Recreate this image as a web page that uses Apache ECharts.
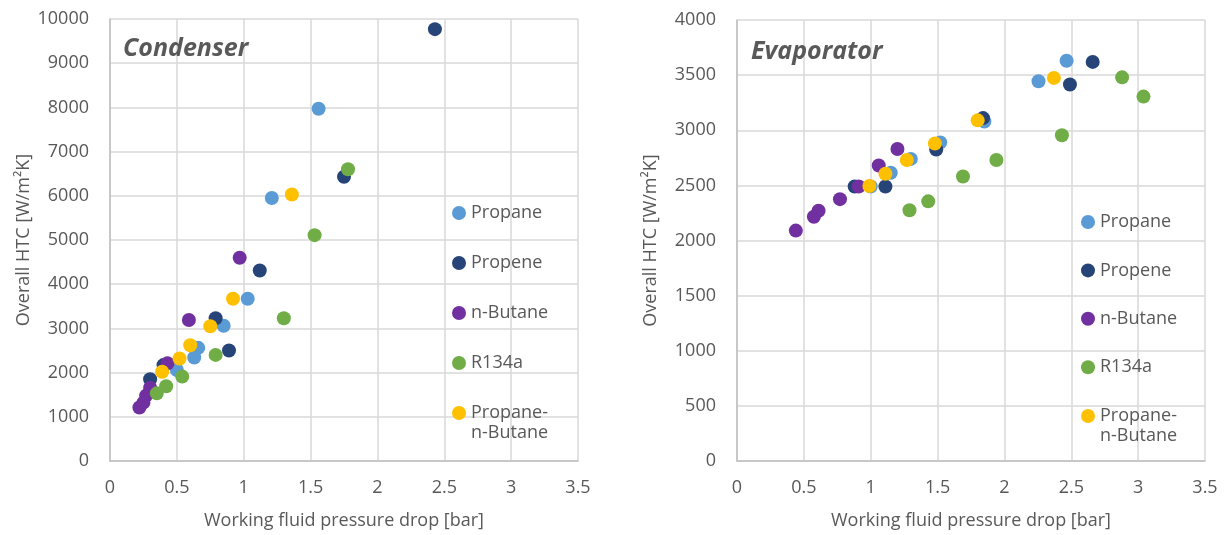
<!DOCTYPE html>
<html>
<head>
<meta charset="utf-8">
<script src="https://cdn.jsdelivr.net/npm/echarts@6/dist/echarts.min.js"></script>
<style>
html,body{margin:0;padding:0;background:#fff;}
#chart{width:1225px;height:535px;}
</style>
</head>
<body>
<div id="chart"></div>
<script>
// ---- Data ----
const seriesNames = ['Propane', 'Propene', 'n-Butane', 'R134a', 'Propane-n-Butane'];
const seriesColors = ['#5B9BD5', '#264478', '#7030A0', '#70AD47', '#FFC000'];

// Condenser: [pressure drop (bar), overall HTC (W/m2K)]
const condPropane = [[1.56,7970],[1.21,5950],[1.03,3670],[0.85,3060],[0.66,2560],[0.63,2340],[0.50,2060]];
const condPropene = [[2.43,9770],[1.75,6430],[1.12,4310],[0.79,3230],[0.89,2500],[0.40,2170],[0.30,1850]];
const condButane  = [[0.97,4600],[0.59,3190],[0.43,2210],[0.30,1660],[0.27,1480],[0.25,1320],[0.22,1210]];
const condR134a   = [[1.78,6600],[1.53,5110],[1.30,3230],[0.79,2400],[0.54,1910],[0.42,1690],[0.35,1530]];
const condMix     = [[1.36,6030],[0.92,3670],[0.75,3050],[0.60,2620],[0.52,2320],[0.39,2020]];

// Evaporator
const evapPropane = [[1.00,2490],[1.15,2615],[1.30,2740],[1.52,2890],[1.85,3080],[2.255,3445],[2.465,3630]];
const evapPropene = [[0.88,2490],[1.11,2490],[1.49,2825],[1.84,3110],[2.49,3415],[2.66,3620]];
const evapButane  = [[0.44,2090],[0.575,2215],[0.61,2270],[0.77,2375],[0.91,2490],[1.06,2680],[1.20,2830]];
const evapR134a   = [[1.29,2275],[1.43,2355],[1.69,2580],[1.94,2730],[2.43,2955],[2.88,3480],[3.04,3305]];
const evapMix     = [[0.99,2495],[1.11,2605],[1.27,2730],[1.48,2880],[1.80,3090],[2.37,3475]];

const condData = [condPropane, condPropene, condButane, condR134a, condMix];
const evapData = [evapPropane, evapPropene, evapButane, evapR134a, evapMix];

const chartTitles = ['Condenser', 'Evaporator'];
const xAxisTitle = 'Working fluid pressure drop [bar]';
const yAxisTitle = 'Overall HTC [W/m\u00B2K]';

// ---- Styles ----
const FONT = '"Open Sans", "Noto Sans", sans-serif';
const TXT = '#595959';
const GRID = '#D9D9D9';

function xAxis(gi) {
  return {
    type: 'value', gridIndex: gi, min: 0, max: 3.5, interval: 0.5,
    name: xAxisTitle, nameLocation: 'middle', nameGap: 51,
    nameTextStyle: {fontFamily: FONT, fontSize: 18, color: TXT},
    axisLine: {show: true, lineStyle: {color: '#BFBFBF', width: 1.5}},
    axisTick: {show: false},
    axisLabel: {fontFamily: FONT, fontSize: 18, color: TXT, margin: 18,
                formatter: v => String(v)},
    splitLine: {show: true, lineStyle: {color: GRID, width: 1.5}}
  };
}
function yAxis(gi, max, interval) {
  return {
    type: 'value', gridIndex: gi, min: 0, max: max, interval: interval,
    name: yAxisTitle, nameLocation: 'middle', nameGap: 77,
    nameTextStyle: {fontFamily: FONT, fontSize: 18, color: TXT},
    axisLine: {show: true, lineStyle: {color: '#BFBFBF', width: 1.5}},
    axisTick: {show: false},
    axisLabel: {fontFamily: FONT, fontSize: 18, color: TXT, margin: 21,
                formatter: v => String(v)},
    splitLine: {show: true, lineStyle: {color: GRID, width: 1.5}}
  };
}

const series = [];
[condData, evapData].forEach((set, gi) => {
  set.forEach((d, i) => {
    series.push({
      type: 'scatter', name: seriesNames[i], xAxisIndex: gi, yAxisIndex: gi,
      data: d, symbol: 'circle', symbolSize: 14,
      itemStyle: {color: seriesColors[i], opacity: 1},
      emphasis: {disabled: true}
    });
  });
});

const legendText = {fontFamily: FONT, fontSize: 18, color: TXT, lineHeight: 20};
function legendMain(left, top, gap) {
  return {
    orient: 'vertical', left: left, top: top, itemGap: gap,
    itemWidth: 14, itemHeight: 14, icon: 'circle', selectedMode: false,
    data: seriesNames.slice(0, 4), textStyle: legendText, padding: 0
  };
}
function legendLast(left, top) {
  return {
    orient: 'vertical', left: left, top: top,
    itemWidth: 14, itemHeight: 14, icon: 'circle', selectedMode: false,
    data: [seriesNames[4]], padding: 0,
    formatter: () => ' \nPropane-\nn-Butane',
    textStyle: legendText
  };
}

const option = {
  animation: false,
  backgroundColor: '#fff',
  title: [
    {text: chartTitles[0], left: 118, top: 31,
     textStyle: {fontFamily: FONT, fontSize: 25, fontWeight: 'bold', fontStyle: 'italic', color: TXT}},
    {text: chartTitles[1], left: 746, top: 34,
     textStyle: {fontFamily: FONT, fontSize: 25, fontWeight: 'bold', fontStyle: 'italic', color: TXT}}
  ],
  grid: [
    {left: 110, top: 19, width: 468, height: 443},
    {left: 737, top: 20, width: 468, height: 442}
  ],
  xAxis: [xAxis(0), xAxis(1)],
  yAxis: [yAxis(0, 10000, 1000), yAxis(1, 4000, 500)],
  legend: [
    legendMain(452, 203, 30),
    legendLast(452, 383),
    legendMain(1081, 212, 28.4),
    legendLast(1081, 386)
  ],
  series: series
};

const chart = echarts.init(document.getElementById('chart'), null, {renderer: 'canvas'});
chart.setOption(option);
</script>
</body>
</html>
